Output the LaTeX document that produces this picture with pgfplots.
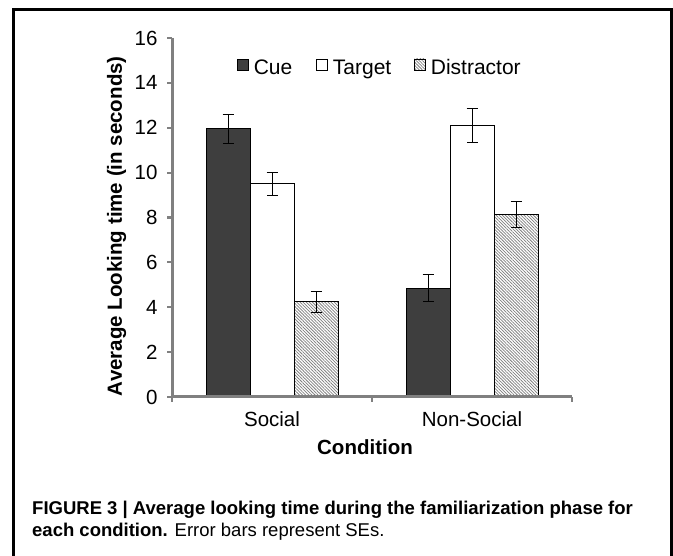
\documentclass[border=0pt]{standalone}
\usepackage{fontspec}
\setmainfont{Liberation Sans}
\usepackage{pgfplots}
\pgfplotsset{compat=1.18}
\usetikzlibrary{patterns.meta}
\definecolor{cuecol}{HTML}{3E3E3E}
\definecolor{axgray}{HTML}{808080}
\begin{document}
\begin{tikzpicture}[x=1pt,y=1pt]
\useasboundingbox (0,0) rectangle (673,556);
\fill[white] (0,0) rectangle (673,556);
\draw[line width=2.6pt] (13.5,0) -- (13.5,546.5) -- (671.5,546.5) -- (671.5,0);
\begin{axis}[
  at={(172pt,159pt)}, anchor=south west,
  scale only axis, width=400pt, height=359pt,
  xmin=-0.5, xmax=1.5, ymin=0, ymax=16,
  ybar=0pt, bar width=44pt,
  axis lines*=left,
  axis line style={draw=axgray, line width=3pt},
  tick align=outside,
  major tick length=5pt, minor tick length=5pt,
  tick style={draw=axgray, line width=2.2pt},
  xtick={0,1}, xticklabels={Social,Non-Social},
  major x tick style={draw=none},
  minor xtick={-0.5,0.5,1.5},
  ytick={0,2,...,16},
  ticklabel style={font=\fontsize{20.5}{24}\selectfont, text=black},
  yticklabel style={xshift=-6pt},
  xticklabel style={yshift=-6pt},
  /pgf/number format/assume math mode=true,
  xlabel={Condition},
  ylabel={Average Looking time (in seconds)},
  label style={font=\fontsize{20.5}{24}\selectfont\bfseries},
  xlabel style={at={(axis description cs:0.4825,-0.1588)}, anchor=base},
  ylabel style={at={(axis description cs:-0.125,0.476)}, anchor=base},
  legend columns=3,
  legend style={draw=none, fill=none, at={(axis description cs:0.1625,0.914)}, anchor=west,
    font=\fontsize{21}{24}\selectfont, inner sep=0pt,
    nodes={text height=15pt, text depth=4pt, inner sep=2pt},
    /tikz/column 1/.style={column sep=3pt},
    /tikz/column 3/.style={column sep=3pt},
    /tikz/column 5/.style={column sep=3pt},
    /tikz/column 2/.style={column sep=22pt},
    /tikz/column 4/.style={column sep=21pt}},
  legend image code/.code={\draw[#1,line width=0.6pt] (0pt,-1pt) rectangle (11pt,10pt);},
  error bars/y dir=both, error bars/y explicit,
  error bars/error mark options={rotate=90, mark size=5.5pt, line width=1pt, black},
  error bars/error bar style={line width=1pt, black},
]
\addplot[fill=cuecol, draw=black, line width=0.8pt] coordinates {(0,11.95) +- (0,0.65) (1,4.85) +- (0,0.6)};
\addplot[fill=white, draw=black, line width=0.8pt] coordinates {(0,9.5) +- (0,0.5) (1,12.1) +- (0,0.75)};
\addplot[fill=white, draw=black, line width=0.8pt, postaction={pattern={Lines[angle=-45,distance=2.2pt,line width=0.75pt]}, pattern color=gray}] coordinates {(0,4.25) +- (0,0.47) (1,8.15) +- (0,0.58)};
\legend{Cue,Target,Distractor}
\draw[axgray, line width=3pt] (rel axis cs:0,1) -- (rel axis cs:0,0) -- (rel axis cs:1,0);
\pgfplotsinvokeforeach{0,2,4,6,8,10,12,14,16}{\draw[axgray, line width=2.2pt] (axis cs:-0.5,#1) -- ++(-6pt,0pt);}
\pgfplotsinvokeforeach{-0.5,0.5,1.5}{\draw[axgray, line width=2.2pt] (axis cs:#1,0) -- ++(0pt,-6pt);}
\end{axis}
\node[anchor=base west, inner sep=0pt, font=\fontsize{18.5}{22}\selectfont\bfseries] at (32,41) {FIGURE 3 | Average looking time during the familiarization phase for};
\node[anchor=base west, inner sep=0pt, font=\fontsize{18.5}{22}\selectfont] at (32,19) {\textbf{each condition.} Error bars represent SEs.};
\end{tikzpicture}
\end{document}
